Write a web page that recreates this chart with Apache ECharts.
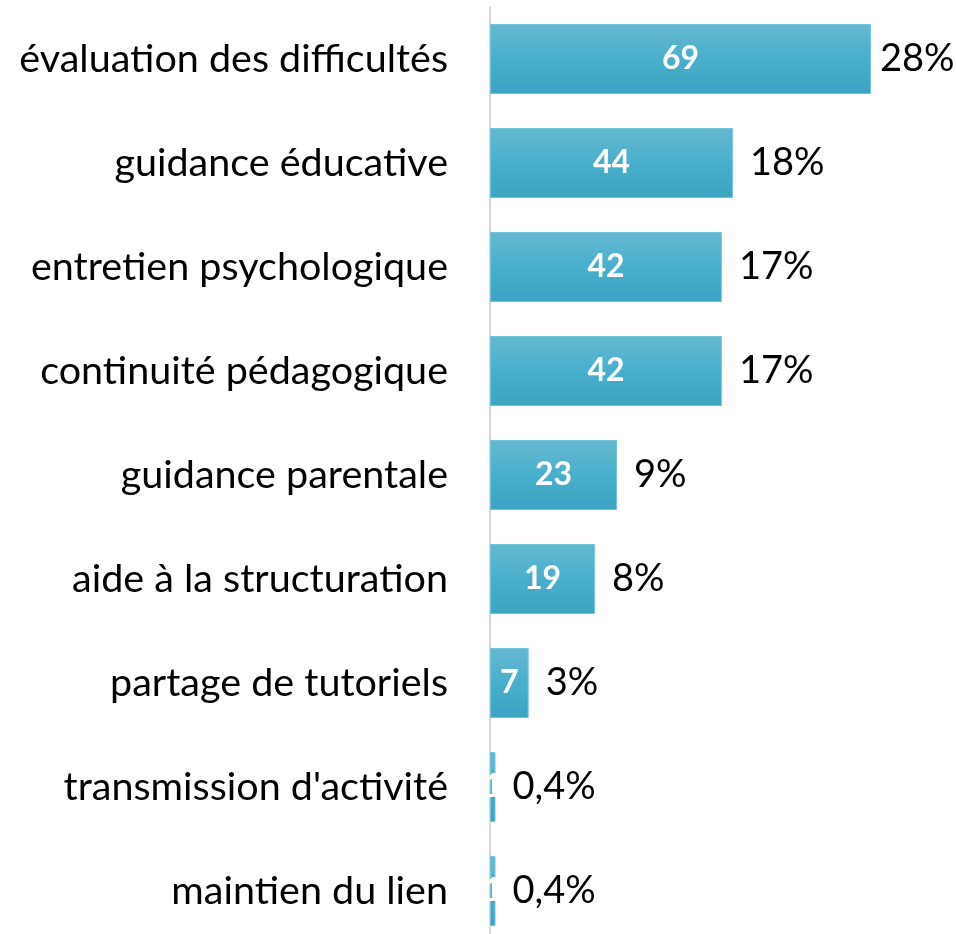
<!DOCTYPE html>
<html><head><meta charset="utf-8">
<script src="https://cdn.jsdelivr.net/npm/echarts@6/dist/echarts.min.js"></script>
<style>html,body{margin:0;padding:0;background:#fff}#c{width:956px;height:934px}</style>
</head><body><div id="c"></div>
<script>
const categories = ["évaluation des difficultés","guidance éducative","entretien psychologique","continuité pédagogique","guidance parentale","aide à la structuration","partage de tutoriels","transmission d'activité","maintien du lien"];
const values = [69,44,42,42,23,19,7,1,1];
const percents = ["28%","18%","17%","17%","9%","8%","3%","0,4%","0,4%"];
const FONT = "Lato";
const chart = echarts.init(document.getElementById('c'));
chart.setOption({
  animation:false,
  grid:{left:490,width:441.7,top:7,height:936,outerBoundsMode:'none',containLabel:false},
  xAxis:{type:'value',min:0,max:80,show:false},
  yAxis:{type:'category',data:categories,inverse:true,
    axisLine:{show:true,lineStyle:{color:'#d9d9d9',width:2}},
    axisTick:{show:false},
    axisLabel:{color:'#000',fontSize:39.5,fontFamily:FONT,margin:42}},
  series:[
    {type:'bar',data:values,barCategoryGap:'32.7%',
     itemStyle:{color:new echarts.graphic.LinearGradient(0,0,0,1,[{offset:0,color:'#66b7d0'},{offset:0.5,color:'#48afcc'},{offset:1,color:'#3ba3c1'}]),borderColor:'#70c6da',borderWidth:1},
     label:{show:true,position:'inside',color:'#fff',fontWeight:'bold',fontSize:32,fontFamily:FONT}},
    {type:'bar',data:values.map((v,i)=>i===0?{value:v,label:{distance:9}}:v),barGap:'-100%',barCategoryGap:'32.7%',
     itemStyle:{color:'rgba(0,0,0,0)'},silent:true,
     label:{show:true,position:'right',distance:17,color:'#000',fontSize:38,fontFamily:FONT,
       formatter:p=>percents[p.dataIndex]}}
  ]
});
</script></body></html>
